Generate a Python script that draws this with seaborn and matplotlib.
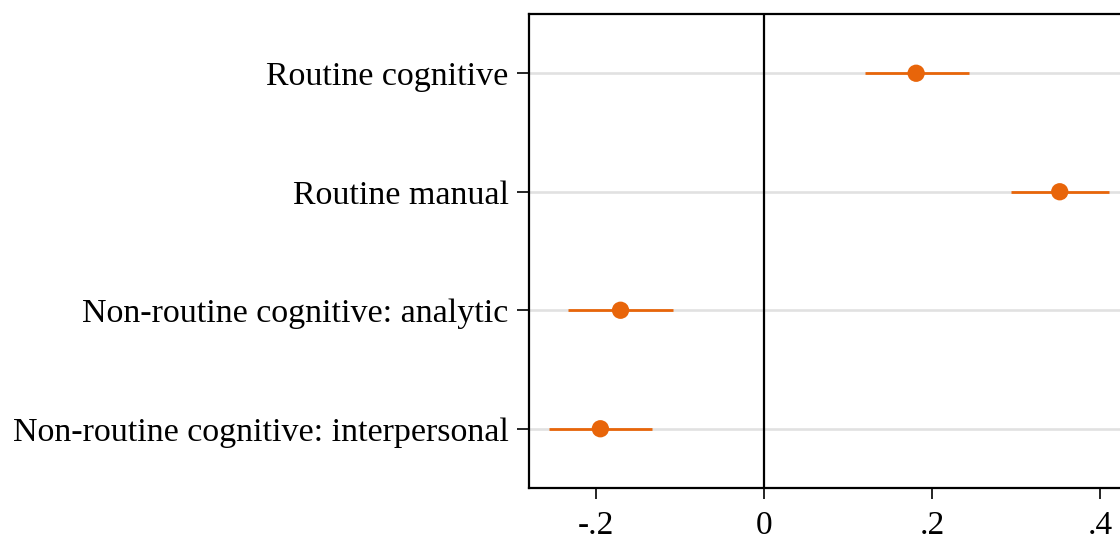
import matplotlib
matplotlib.use("Agg")
import matplotlib.pyplot as plt
import seaborn as sns
import pandas as pd

categories = ["Routine cognitive", "Routine manual",
              "Non-routine cognitive: analytic",
              "Non-routine cognitive: interpersonal"]
estimates = [0.181, 0.352, -0.171, -0.195]
ci_low = [0.120, 0.294, -0.233, -0.256]
ci_high = [0.244, 0.411, -0.108, -0.133]
xticks = [-0.2, 0.0, 0.2, 0.4]
xticklabels = ["-.2", "0", ".2", ".4"]

df = pd.DataFrame({"cat": categories, "est": estimates, "lo": ci_low, "hi": ci_high})

sns.set_style("white")
plt.rcParams["font.family"] = ["Liberation Serif", "DejaVu Serif"]
plt.rcParams["text.color"] = "black"
plt.rcParams["xtick.color"] = "black"
plt.rcParams["ytick.color"] = "black"

W, H = 1120, 544
fig = plt.figure(figsize=(W / 100, H / 100), dpi=100)
left, right, top, bottom = 529, 1260, 14, 488
ax = fig.add_axes([left / W, 1 - bottom / H, (right - left) / W, (bottom - top) / H])

orange = "#e8650a"
ax.hlines(df["cat"], -0.28, 0.6, color="#e1e1e1", lw=1.9, zorder=0)
ax.hlines(df["cat"], df["lo"], df["hi"], color=orange, lw=2.0, zorder=2)
sns.scatterplot(data=df, x="est", y="cat", ax=ax, color=orange, s=155,
                edgecolor="none", zorder=3, legend=False)
ax.axvline(0, color="black", lw=1.6, zorder=1)

ax.set_xlim(-0.28, (right - 764) / 840)
ax.set_ylim(3.5, -0.5)
ax.set_xticks(xticks)
ax.set_xticklabels(xticklabels)
ax.set_xlabel("")
ax.set_ylabel("")
ax.tick_params(axis="x", direction="out", length=8, width=1.2, pad=8,
               labelsize=24, bottom=True, labelcolor="black")
ax.tick_params(axis="y", direction="out", length=8.6, width=1.2, pad=6,
               labelsize=24.5, left=True, labelcolor="black")
for s in ax.spines.values():
    s.set_linewidth(1.6)
    s.set_color("black")
ax.grid(False)

fig.savefig("out.png", dpi=100)
